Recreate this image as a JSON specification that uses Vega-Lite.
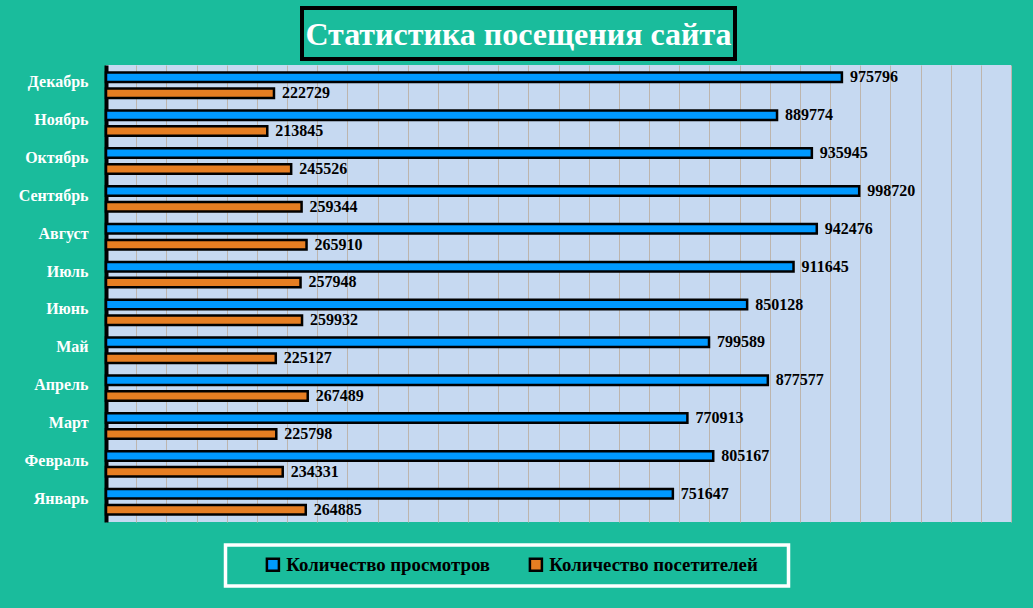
{
  "$schema": "https://vega.github.io/schema/vega-lite/v6.json",
  "background": "#1ABC9C",
  "padding": {"left": 18, "top": 6, "right": 22, "bottom": 23},
  "center": false,
  "spacing": 4,
  "resolve": {"scale": {"color": "independent"}},
  "config": {
    "font": "Liberation Serif",
    "view": {"stroke": null}
  },
  "vconcat": [
    {
      "spacing": 0,
      "hconcat": [
        {
          "width": 194,
          "height": 51,
          "view": {"stroke": null, "fill": null},
          "data": {"values": []},
          "mark": {"type": "text"},
          "encoding": {}
        },
        {
          "width": 433,
          "height": 51,
          "view": {"stroke": "black", "strokeWidth": 4, "fill": null},
          "data": {"values": [{"t": "Статистика посещения сайта"}]},
          "mark": {"type": "text", "font": "Liberation Serif", "fontSize": 32, "fontWeight": "bold", "color": "white", "baseline": "middle", "align": "center", "dy": 1},
          "encoding": {"text": {"field": "t"}}
        }
      ]
    },
    {
      "width": 905,
      "height": 457,
      "view": {"fill": "#C6D9F1", "stroke": null},
      "data": {
        "values": [
          {"month": "Январь", "series": "Количество просмотров", "value": 751647},
          {"month": "Январь", "series": "Количество посетителей", "value": 264885},
          {"month": "Февраль", "series": "Количество просмотров", "value": 805167},
          {"month": "Февраль", "series": "Количество посетителей", "value": 234331},
          {"month": "Март", "series": "Количество просмотров", "value": 770913},
          {"month": "Март", "series": "Количество посетителей", "value": 225798},
          {"month": "Апрель", "series": "Количество просмотров", "value": 877577},
          {"month": "Апрель", "series": "Количество посетителей", "value": 267489},
          {"month": "Май", "series": "Количество просмотров", "value": 799589},
          {"month": "Май", "series": "Количество посетителей", "value": 225127},
          {"month": "Июнь", "series": "Количество просмотров", "value": 850128},
          {"month": "Июнь", "series": "Количество посетителей", "value": 259932},
          {"month": "Июль", "series": "Количество просмотров", "value": 911645},
          {"month": "Июль", "series": "Количество посетителей", "value": 257948},
          {"month": "Август", "series": "Количество просмотров", "value": 942476},
          {"month": "Август", "series": "Количество посетителей", "value": 265910},
          {"month": "Сентябрь", "series": "Количество просмотров", "value": 998720},
          {"month": "Сентябрь", "series": "Количество посетителей", "value": 259344},
          {"month": "Октябрь", "series": "Количество просмотров", "value": 935945},
          {"month": "Октябрь", "series": "Количество посетителей", "value": 245526},
          {"month": "Ноябрь", "series": "Количество просмотров", "value": 889774},
          {"month": "Ноябрь", "series": "Количество посетителей", "value": 213845},
          {"month": "Декабрь", "series": "Количество просмотров", "value": 975796},
          {"month": "Декабрь", "series": "Количество посетителей", "value": 222729}
        ]
      },
      "encoding": {
        "y": {
          "field": "month",
          "type": "nominal",
          "sort": ["Декабрь", "Ноябрь", "Октябрь", "Сентябрь", "Август", "Июль", "Июнь", "Май", "Апрель", "Март", "Февраль", "Январь"],
          "scale": {"paddingInner": 0.33, "paddingOuter": 0.2},
          "axis": {
            "title": null,
            "domain": true,
            "domainColor": "black",
            "domainWidth": 4,
            "ticks": false,
            "tickSize": 0,
            "grid": false,
            "labelColor": "white",
            "labelFont": "Liberation Serif",
            "labelFontSize": 16,
            "labelFontWeight": "bold",
            "labelPadding": 18,
            "labelOffset": -3,
            "minExtent": 88,
            "maxExtent": 88
          }
        },
        "yOffset": {
          "field": "series",
          "type": "nominal",
          "sort": ["Количество просмотров", "Количество посетителей"],
          "scale": {"paddingInner": 0.4, "paddingOuter": 0}
        },
        "x": {
          "field": "value",
          "type": "quantitative",
          "scale": {"domain": [0, 1200000], "nice": false, "zero": true},
          "axis": {
            "title": null,
            "labels": false,
            "ticks": false,
            "domain": false,
            "grid": true,
            "gridColor": "#BDB5AD",
            "gridWidth": 1,
            "gridOpacity": 1,
            "values": [0, 40000, 80000, 120000, 160000, 200000, 240000, 280000, 320000, 360000, 400000, 440000, 480000, 520000, 560000, 600000, 640000, 680000, 720000, 760000, 800000, 840000, 880000, 920000, 960000, 1000000, 1040000, 1080000, 1120000, 1160000, 1200000]
          }
        }
      },
      "layer": [
        {
          "mark": {"type": "bar", "stroke": "black", "strokeWidth": 2.5},
          "encoding": {
            "color": {
              "field": "series",
              "type": "nominal",
              "sort": ["Количество просмотров", "Количество посетителей"],
              "scale": {"domain": ["Количество просмотров", "Количество посетителей"], "range": ["#0099FF", "#E67E22"]},
              "legend": {
                "title": " ",
                "titleOrient": "right",
                "titlePadding": 21,
                "titleFontSize": 10,
                "orient": "none",
                "direction": "horizontal",
                "legendX": 119.5,
                "legendY": 480,
                "strokeColor": "white",
                "padding": 10,
                "symbolType": "square",
                "symbolSize": 144,
                "symbolStrokeWidth": 2.5,
                "symbolStrokeColor": "black",
                "symbolOpacity": 1,
                "symbolOffset": 28,
                "labelFont": "Liberation Serif",
                "labelFontSize": 18.8,
                "labelFontWeight": "bold",
                "labelColor": "black",
                "labelOffset": 4,
                "labelLimit": 400,
                "columnPadding": 8,
                "encode": {
                  "legend": {"update": {"strokeWidth": {"value": 3.5}}},
                  "symbols": {"update": {"stroke": {"value": "black"}, "strokeWidth": {"value": 2.5}}}
                }
              }
            }
          }
        },
        {
          "mark": {"type": "text", "align": "left", "baseline": "middle", "dx": 8, "font": "Liberation Serif", "fontSize": 16, "fontWeight": "bold", "color": "black"},
          "encoding": {
            "text": {"field": "value", "type": "quantitative", "format": "d"}
          }
        }
      ]
    }
  ]
}
